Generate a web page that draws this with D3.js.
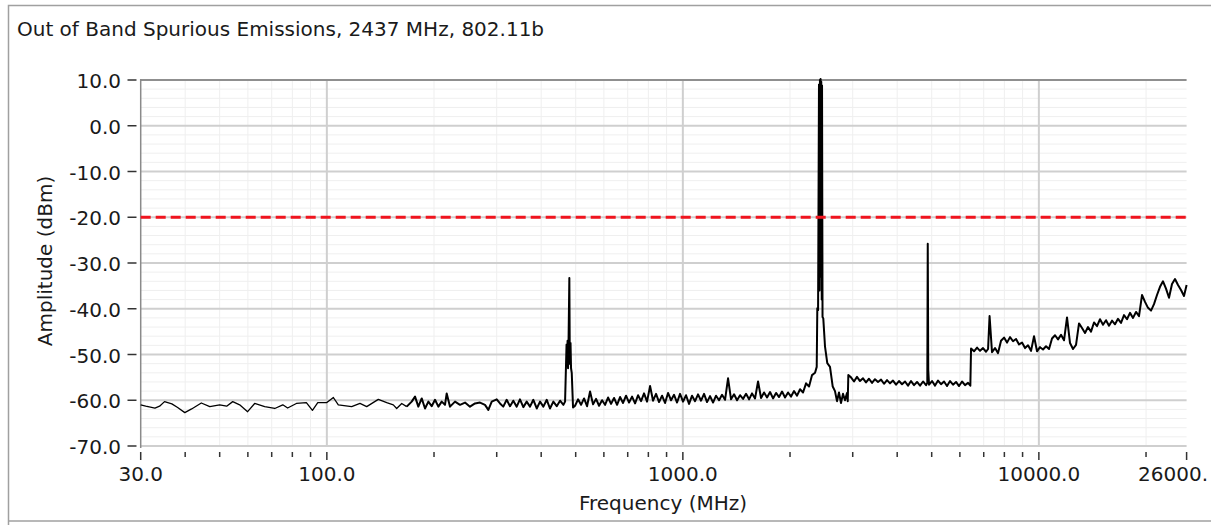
<!DOCTYPE html>
<html><head><meta charset="utf-8">
<script src="https://cdn.jsdelivr.net/npm/d3@7"></script>
<style>html,body{margin:0;padding:0;background:#fff;} svg{display:block;font-family:"DejaVu Sans",Verdana,sans-serif;}</style>
</head><body>
<svg id="chart" width="1211" height="525"></svg>
<script>
// ---------- chart text ----------
const titleText = "Out of Band Spurious Emissions, 2437 MHz, 802.11b";
const xTitle = "Frequency (MHz)";
const yTitle = "Amplitude (dBm)";
const xTickValues = [30, 100, 1000, 10000, 26000];
const xTickLabels = ["30.0", "100.0", "1000.0", "10000.0", "26000."];
const yTickValues = [10, 0, -10, -20, -30, -40, -50, -60, -70];
const yTickLabels = ["10.0", "0.0", "-10.0", "-20.0", "-30.0", "-40.0", "-50.0", "-60.0", "-70.0"];
const limitLevel = -20;   // dBm limit line

// ---------- measured trace, [MHz, dBm] ----------
const trace30to100 = [
  [30,-61.0],[31,-61.3],[32.9,-61.7],[33.9,-61.3],[35.0,-60.3],[36.7,-60.8],[38.1,-61.6],[39.9,-62.7],
  [41.7,-61.9],[44.4,-60.6],[46.9,-61.4],[50,-61.0],[52.3,-61.3],[54.4,-60.3],[56.9,-61.0],[59.9,-62.5],
  [62.7,-60.7],[66.9,-61.4],[71.4,-61.8],[75.2,-61.0],[77.6,-61.7],[82.1,-60.7],[87.6,-60.5],[91.1,-62.2],
  [94.3,-60.5],[100,-60.5],
  [104.3,-59.4],[107.7,-61.0],[117.4,-61.4],[123.9,-60.7],[129.4,-61.4],[139.5,-59.8],[147.3,-60.5],[153.7,-61.0],
  [157.1,-61.8],[162.3,-60.7],[167.6,-61.4]
];
const trace170to470 = [
  [167.6,-61.4],[173.1,-60.3],[176.9,-59.2],[180.7,-61.4],[184.7,-59.6],[188.7,-61.8],
  [192.8,-60.3],[197,-61.3],[201.3,-59.9],[205.7,-61.4],[210.2,-60.3],[214.7,-61.0],[217.1,-58.5],[221.8,-61.4],
  [229.1,-60.3],[236.6,-61.0],[244.4,-60.5],[252.4,-61.4],[260.7,-60.7],[269.3,-60.5],[278.1,-61.0],[284.2,-62.1],
  [290.5,-60.3],[300,-59.8],[306.5,-60.7],[313,-61.4],[320,-59.9],[327,-61.3],[334,-60.1],[341.4,-61.4],
  [348.7,-59.8],[356.4,-61.5],[364.2,-60.3],[372.1,-61.4],[380.2,-59.9],[388.7,-61.8],[397,-60.3],[405.7,-61.4],
  [414.7,-59.9],[423.4,-61.8],[432.7,-60.3],[442.3,-61.3],[451.9,-60.1],[461.8,-61.0],[466.8,-60.3]
];
const spur480 = [
  [471.3,-47.8],[472.9,-52.5],[474.4,-47.0],[475.9,-53.0],[477.4,-47.3],[479.9,-33.3],[481.4,-52.0],
  [483.6,-47.5],[485.2,-53.0],[487.4,-54.0],[491.5,-61.6]
];
const trace490to2390 = [
  [497.9,-61.2],[507.7,-59.8],[517.6,-61.0],[527.8,-59.6],[538.1,-61.3],[548.7,-58.1],[559.4,-60.9],[570.4,-59.7],
  [581.6,-61.2],[593.0,-60.0],[604.6,-61.0],[616.4,-59.4],[628.5,-60.8],[640.8,-59.5],[653.4,-61.0],[666.2,-59.3],
  [679.2,-60.6],[692.5,-59.0],[706.1,-60.5],[720.0,-59.2],[734.1,-60.7],[748.4,-58.9],[763.1,-60.2],[778.0,-58.5],
  [793.3,-60.3],[808.8,-56.9],[824.7,-60.1],[840.8,-58.6],[857.3,-60.4],[874.1,-59.0],[891.2,-60.6],[908.6,-58.4],
  [926.4,-60.0],[944.6,-58.8],[963.1,-60.5],[982.0,-58.6],[1001.2,-60.3],[1020.8,-58.9],[1040.8,-60.8],[1061.2,-59.0],
  [1082.0,-60.2],[1103.2,-58.7],[1124.8,-60.1],[1146.9,-58.6],[1169.3,-60.4],[1192.2,-59.1],[1215.6,-60.5],[1239.4,-59.0],
  [1263.7,-60.0],[1288.5,-58.8],[1313.7,-59.9],[1339.5,-55.2],[1365.7,-59.8],[1392.5,-58.7],[1419.8,-60.0],[1447.6,-58.9],
  [1476.0,-59.7],[1504.9,-58.6],[1534.4,-59.8],[1564.4,-58.5],[1595.1,-59.6],[1626.3,-55.9],[1658.2,-59.5],[1690.7,-58.3],
  [1723.8,-59.4],[1757.6,-58.2],[1792.0,-59.6],[1827.1,-58.4],[1862.9,-59.3],[1899.4,-58.1],[1936.6,-59.4],[1974.6,-58.3],
  [2013.3,-59.2],[2052.7,-58.0],[2092.9,-59.0],[2133.9,-57.6],[2175.7,-58.3],[2218.4,-56.3],[2261.8,-57.0],[2306.1,-54.5],
  [2351.3,-54.0],[2377,-52.7],[2386,-39.9]
];
const carrier2437 = [
  [2398,-40.3],[2412,9.0],[2420,-36.0],[2427,10.0],[2433,-31.0],[2437,10.2],[2442,-33.0],[2448,9.6],
  [2455,-38.0],[2460,8.8],[2468,-41.8],[2480,-42.1],[2508,-48.3],[2545,-51.9],[2590,-52.7],[2636,-57.0],
  [2675,-58.0],[2710,-60.2],[2745,-58.3],[2781,-60.6],[2817,-58.6],[2854,-60.0],[2891,-58.4],[2905,-60.2],[2916,-54.5]
];
const trace2900to6400 = [
  [2967,-55.0],[3025,-55.9],[3084,-54.9],[3145,-55.8],[3206,-55.2],[3269,-56.1],[3333,-55.3],[3399,-56.2],
  [3465,-55.4],[3533,-56.0],[3603,-55.5],[3673,-56.4],[3745,-55.6],[3819,-56.3],[3893,-55.7],[3970,-56.6],
  [4047,-55.8],[4127,-56.5],[4208,-55.9],[4290,-56.8],[4374,-55.8],[4460,-56.7],[4548,-56.0],[4637,-56.8],
  [4728,-55.9],[4820,-56.7],[4860,-56.2],[4874,-25.8],[4890,-53.4],[4915,-56.6],[5011,-55.8],[5109,-56.8],
  [5209,-55.7],[5311,-56.5],[5415,-55.9],[5521,-56.9],[5630,-55.8],[5740,-56.6],[5852,-56.0],[5967,-56.9],
  [6084,-55.9],[6203,-56.7],[6325,-56.2],[6420,-56.8]
];
const trace6400to26000 = [
  [6449,-48.7],[6575,-49.3],[6704,-48.5],[6835,-49.2],[6969,-48.6],[7105,-49.4],[7200,-48.8],[7270,-41.6],
  [7386,-49.5],[7531,-48.6],[7679,-49.7],[7829,-47.0],[7983,-46.3],[8139,-47.4],[8298,-46.2],[8461,-47.1],
  [8627,-46.6],[8796,-47.8],[8968,-47.4],[9144,-48.6],[9323,-48.0],[9506,-49.2],[9692,-46.0],[9882,-49.3],
  [10075,-48.4],[10273,-48.9],[10474,-48.2],[10679,-48.8],[10888,-46.5],[11101,-45.8],[11319,-46.7],[11541,-45.7],
  [11767,-46.9],[11997,-41.9],[12232,-47.5],[12472,-48.8],[12716,-47.9],[12965,-43.2],[13219,-44.2],[13478,-45.3],
  [13742,-44.0],[14011,-45.0],[14286,-43.0],[14566,-43.8],[14851,-42.3],[15142,-43.5],[15439,-42.5],[15741,-43.7],
  [16049,-42.6],[16364,-43.4],[16684,-42.2],[17011,-43.1],[17345,-41.4],[17684,-42.3],[18031,-40.9],[18384,-42.0],
  [18744,-40.7],[19111,-41.6],[19486,-37.0],[19868,-38.5],[20257,-39.8],[20654,-40.4],[21058,-39.0],[21471,-37.0],
  [21891,-35.2],[22320,-34.0],[22757,-35.6],[23203,-37.6],[23658,-34.6],[24121,-33.5],[24594,-34.8],[25075,-35.9],
  [25567,-37.2],[26000,-34.8]
];

const traceDense = [].concat(trace170to470, spur480, trace490to2390,
                             carrier2437, trace2900to6400, trace6400to26000);

// ---------- layout ----------
const W = 1211, H = 525;
const plot = {left: 140.7, right: 1186.6, top: 80, bottom: 446};
const svg = d3.select("#chart");

const x = d3.scaleLog().domain([30, 26000]).range([plot.left, plot.right]);
const y = d3.scaleLinear().domain([-70, 10]).range([plot.bottom, plot.top]);

// outer frame
svg.append("rect").attr("x", 0).attr("y", 0).attr("width", W).attr("height", H).attr("fill", "#fff");
svg.append("path").attr("d", `M8.5,${H} L8.5,5.5 L${W},5.5`).attr("fill", "none").attr("stroke", "#a0a0a0").attr("stroke-width", 1.5);
svg.append("line").attr("x1", 8.5).attr("x2", W).attr("y1", 521).attr("y2", 521).attr("stroke", "#a0a0a0").attr("stroke-width", 1.5);

// title
svg.append("text").attr("x", 17).attr("y", 36).attr("font-size", 20).attr("fill", "#1a1a1a").text(titleText);

const g = svg.append("g");

// minor grids
const minorX = [];
[10, 100, 1000, 10000].forEach(dec => { for (let m = 2; m <= 9; m++) { const v = m * dec; if (v > 30 && v < 26000 && v !== 100 && v !== 1000 && v !== 10000) minorX.push(v); } });
const minorY = d3.range(-70, 10, 2).filter(v => v % 10 !== 0);

g.selectAll(".mgx").data(minorX).enter().append("line")
  .attr("x1", d => x(d)).attr("x2", d => x(d)).attr("y1", plot.top).attr("y2", plot.bottom)
  .attr("stroke", "#efefef").attr("stroke-width", 1);
g.selectAll(".mgy").data(minorY).enter().append("line")
  .attr("x1", plot.left).attr("x2", plot.right).attr("y1", d => y(d)).attr("y2", d => y(d))
  .attr("stroke", "#efefef").attr("stroke-width", 1);

// major grids
g.selectAll(".Mgy").data(yTickValues.filter(v => v !== 10)).enter().append("line")
  .attr("x1", plot.left).attr("x2", plot.right).attr("y1", d => y(d)).attr("y2", d => y(d))
  .attr("stroke", "#cfcfcf").attr("stroke-width", 2);
g.selectAll(".Mgx").data([100, 1000, 10000]).enter().append("line")
  .attr("x1", d => x(d)).attr("x2", d => x(d)).attr("y1", plot.top).attr("y2", plot.bottom)
  .attr("stroke", "#cfcfcf").attr("stroke-width", 2);

// top border of plot
g.append("line").attr("x1", plot.left).attr("x2", plot.right).attr("y1", y(10)).attr("y2", y(10))
  .attr("stroke", "#8f8f8f").attr("stroke-width", 2);
// left axis line
g.append("line").attr("x1", plot.left).attr("x2", plot.left).attr("y1", y(10) - 1).attr("y2", plot.bottom + 2)
  .attr("stroke", "#8a8a8a").attr("stroke-width", 1.5);

// y ticks and labels
g.selectAll(".yt").data(yTickValues).enter().append("line")
  .attr("x1", 127.5).attr("x2", 136.5).attr("y1", d => y(d)).attr("y2", d => y(d))
  .attr("stroke", "#333").attr("stroke-width", 1.5);
g.selectAll(".yl").data(yTickValues).enter().append("text")
  .attr("x", 121).attr("y", d => y(d) + 8).attr("text-anchor", "end")
  .attr("font-size", 20).attr("fill", "#1a1a1a").text((d, i) => yTickLabels[i]);

// x ticks and labels
g.selectAll(".xtm").data(minorX).enter().append("line")
  .attr("x1", d => x(d)).attr("x2", d => x(d)).attr("y1", 452).attr("y2", 457)
  .attr("stroke", "#333").attr("stroke-width", 1.5);
g.selectAll(".xtM").data(xTickValues).enter().append("line")
  .attr("x1", d => x(d)).attr("x2", d => x(d)).attr("y1", 452).attr("y2", 460)
  .attr("stroke", "#333").attr("stroke-width", 1.5);
g.selectAll(".xl").data(xTickValues).enter().append("text")
  .attr("x", (d, i) => i === xTickValues.length - 1 ? 1208 : x(d)).attr("y", 481)
  .attr("text-anchor", (d, i) => i === xTickValues.length - 1 ? "end" : "middle")
  .attr("font-size", 20).attr("fill", "#1a1a1a").text((d, i) => xTickLabels[i]);

// axis titles
svg.append("text").attr("x", 663).attr("y", 510).attr("text-anchor", "middle")
  .attr("font-size", 20).attr("fill", "#1a1a1a").text(xTitle);
svg.append("text").attr("transform", "translate(52,261) rotate(-90)").attr("text-anchor", "middle")
  .attr("font-size", 20).attr("fill", "#1a1a1a").text(yTitle);

// trace: the low band is drawn thin, the dense sweep region heavier (as in the original)
const line = d3.line().x(d => x(d[0])).y(d => y(d[1]));
g.append("path").datum(trace30to100).attr("d", line).attr("fill", "none")
  .attr("stroke", "#000").attr("stroke-width", 1.3).attr("stroke-linejoin", "round");
g.append("path").datum(traceDense).attr("d", line).attr("fill", "none")
  .attr("stroke", "#000").attr("stroke-width", 2).attr("stroke-linejoin", "round");

// limit line
g.append("line").attr("x1", plot.left).attr("x2", plot.right).attr("y1", y(limitLevel)).attr("y2", y(limitLevel))
  .attr("stroke", "#f0141e").attr("stroke-width", 3).attr("stroke-dasharray", "10,5");
</script>
</body></html>
